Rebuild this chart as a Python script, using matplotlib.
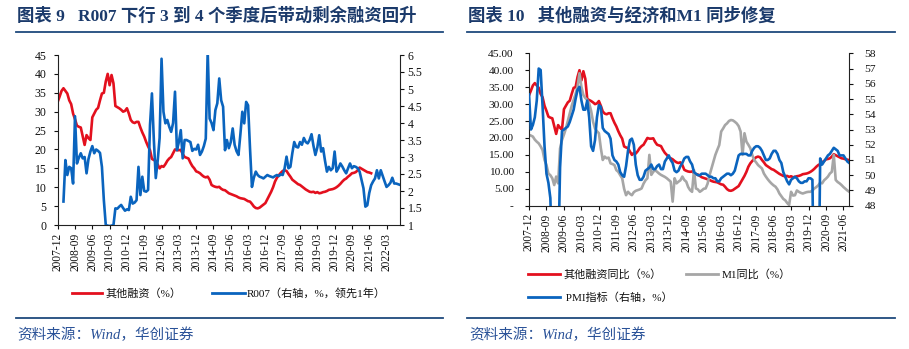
import numpy as np
import pandas as pd
import matplotlib
matplotlib.use('Agg')
import matplotlib.pyplot as plt
from matplotlib.lines import Line2D

plt.rcParams['font.family'] = ['Liberation Serif', 'Noto Sans CJK SC', 'DejaVu Sans']

# ---------------- data ----------------
start_month = '2007-12'
n_left = 179
n_right = 166
months_left = pd.period_range(start_month, periods=n_left, freq='M').strftime('%Y-%m').tolist()
months_right = months_left[:n_right]

# 其他融资同比 (%)
other_fin = [32.6, 34.0, 35.5, 36.2, 35.5, 34.8, 33.0, 32.0, 29.5, 28.0,
             26.3, 26.0, 25.8, 23.5, 21.2, 23.8, 23.0, 22.5, 28.5, 29.5,
             30.5, 31.0, 33.0, 34.8, 35.0, 38.0, 40.0, 37.0, 39.7, 37.5,
             31.5, 31.2, 30.9, 30.5, 30.0, 30.2, 30.9, 29.5, 27.8, 27.2,
             27.0, 27.3, 27.3, 25.8, 24.5, 23.4, 22.0, 20.8, 19.8, 17.5,
             17.2, 17.0, 16.0, 15.0, 15.6, 15.4, 16.1, 17.0, 17.6, 18.0,
             19.0, 20.0, 19.8, 19.8, 19.9, 18.8, 18.0, 17.8, 17.6, 16.5,
             15.6, 15.0, 14.2, 14.0, 13.7, 13.2, 12.8, 12.6, 12.8, 12.0,
             10.6, 10.3, 10.1, 10.0, 10.1, 9.6, 9.3, 9.2, 8.8, 8.4,
             8.2, 8.0, 7.8, 7.6, 7.3, 7.1, 7.0, 6.9, 6.6, 6.3,
             6.2, 5.6, 4.9, 4.5, 4.4, 4.6, 5.0, 5.4, 5.8, 6.8,
             7.8, 8.8, 10.0, 11.5, 12.5, 13.2, 13.8, 14.3, 14.5, 14.3,
             13.5, 12.8, 12.0, 11.6, 11.2, 10.8, 10.6, 10.2, 9.8, 9.4,
             9.1, 8.8, 8.7, 8.8, 8.5, 8.7, 8.4, 8.5, 8.7, 8.8,
             9.0, 9.3, 9.4, 9.5, 9.7, 10.0, 10.4, 10.9, 11.5, 12.0,
             12.3, 12.8, 13.2, 13.7, 13.8, 14.0, 14.5, 15.2, 14.9, 14.6,
             14.3, 14.0, 13.9, 13.7, 13.6, 13.4]
n_other_left = 164  # months of 其他融资 shown in the left chart

# R007 (右轴, %, 领先1年)
nan = np.nan
r007_lead = [nan, nan, nan,
             1.69, 2.91, 2.47, 2.71, 2.67, 2.22, 4.20,
             2.81, 2.98, 3.11, 2.96, 3.00, 2.52, 2.94, 3.16, 3.32, 3.11,
             3.22, 3.18, 3.12, 2.71, 1.73, 1.00, 0.98, 0.97, 0.98, 1.00,
             1.49, 1.48, 1.54, 1.59, 1.50, 1.42, 1.46, 1.44, 1.83, 1.63,
             1.66, 1.73, 2.71, 1.88, 2.42, 2.00, 1.98, 2.03, 3.94, 4.87,
             3.50, 2.38, 2.89, 3.56, 5.89, 4.33, 3.99, 4.09, 3.89, 3.74,
             4.00, 4.92, 3.20, 3.44, 3.79, 2.96, 3.50, 3.50, 3.47, 3.44,
             3.18, 3.24, 3.22, 3.36, 3.06, 3.16, 3.32, 3.54, 6.10, 4.13,
             4.00, 3.79, 4.38, 4.58, 5.31, 4.67, 4.48, 3.20, 3.50, 3.26,
             3.44, 3.84, 3.36, 3.17, 3.06, 3.67, 4.33, 3.99, 4.62, 4.52,
             3.26, 2.12, 2.39, 2.57, 2.47, 2.42, 2.40, 2.37, 2.42, 2.47,
             2.44, 2.42, 2.40, 2.44, 2.47, 2.44, 2.49, 2.47, 2.67, 3.01,
             2.67, 2.71, 3.11, 3.44, 3.30, 3.28, 3.44, 3.36, 3.56, 3.44,
             3.40, 3.50, 3.67, 3.33, 3.06, 3.28, 3.64, 3.16, 3.26, 2.89,
             2.57, 2.71, 2.61, 2.67, 3.16, 2.57, 2.67, 2.81, 2.72, 2.61,
             2.52, 2.67, 2.81, 2.67, 2.73, 2.71, 2.67, 2.57, 2.33, 2.08,
             1.54, 1.58, 1.94, 2.17, 2.28, 2.37, 2.61, 2.37, 2.61, 2.44,
             2.28, 2.12, 2.17, 2.24, 2.39, 2.22, 2.22, 2.20, 2.18]

# M1同比 (%)
m1_yoy = [20.9, 20.7, 20.4, 19.5, 18.9, 18.4, 17.5, 16.4, 13.5, 12.0,
          9.5, 9.0, 8.1, 6.1, 8.6, 6.6, 16.9, 19.4, 21.0, 22.8,
          25.0, 27.3, 29.5, 31.2, 33.0, 35.1, 39.1, 35.1, 32.7, 31.8,
          31.2, 30.2, 28.0, 24.8, 22.8, 22.0, 21.4, 17.0, 13.5, 14.5,
          14.0, 14.2, 12.5, 12.3, 12.0, 10.5, 10.0, 9.0, 8.1, 5.0,
          3.1, 4.1, 3.5, 3.1, 4.0, 4.4, 4.6, 4.8, 5.1, 6.5,
          7.5, 8.1, 15.0, 9.1, 10.0, 10.5, 10.0, 9.5, 9.1, 8.8,
          8.5, 8.1, 7.6, 7.1, 1.2, 8.1, 6.6, 7.1, 7.5, 8.6,
          7.6, 7.1, 5.5, 4.6, 4.1, 10.5, 5.1, 4.8, 4.1, 4.5,
          5.0, 5.1, 6.5, 9.0, 11.0, 13.0, 15.0, 16.5, 17.9, 21.9,
          22.8, 23.8, 24.3, 25.0, 25.3, 25.2, 24.8, 24.3, 23.5, 21.9,
          15.0, 21.4, 18.9, 18.0, 17.0, 15.0, 13.5, 12.8, 12.0, 11.5,
          11.0, 9.5, 8.6, 7.8, 7.1, 6.5, 6.0, 5.6, 4.8, 3.6,
          2.8, 2.0, 1.6, 0.8, 0.2, 4.1, 3.0, 3.1, 4.5, 4.1,
          3.8, 3.6, 3.8, 4.0, 4.1, 4.1, 4.5, 5.1, 5.5, 6.0,
          6.8, 6.6, 7.5, 8.0, 8.6, 9.5, 10.0, 15.0, 7.6, 7.0,
          6.6, 6.1, 5.5, 5.0, 4.5, 4.1]

# PMI指标 (右轴, %)
pmi = [55.3, 53.0, 53.3, 53.8, 54.9, 57.0, 56.9, 54.5, 51.9, 50.1,
       49.5, 48.5, 44.0, 41.0, 41.5, 44.0, 50.5, 52.9, 53.0, 53.1,
       53.2, 53.5, 53.9, 54.3, 55.0, 55.6, 55.8, 54.9, 54.3, 54.3,
       54.9, 53.8, 51.9, 51.6, 52.3, 53.8, 54.6, 54.5, 53.1, 52.9,
       52.8, 52.7, 52.4, 51.3, 51.0, 50.9, 50.7, 50.2, 50.0, 49.9,
       50.6, 51.6, 52.3, 52.4, 52.0, 50.7, 50.0, 49.7, 49.7, 49.9,
       50.3, 50.4, 50.5, 50.7, 50.4, 50.4, 50.6, 50.7, 50.4, 50.4,
       50.9, 51.1, 51.3, 51.0, 50.8, 50.3, 50.2, 50.3, 50.6, 50.8,
       51.1, 51.2, 51.2, 50.9, 50.7, 50.2, 50.1, 50.0, 50.0, 50.1,
       50.1, 50.1, 50.0, 49.9, 49.9, 49.8, 49.8, 49.6, 49.6, 49.8,
       49.9, 50.0, 50.1, 50.1, 50.0, 50.1, 50.3, 50.8, 51.3, 51.4,
       51.4, 51.4, 51.4, 51.3, 51.3, 51.6, 51.8, 51.9, 51.9, 51.8,
       51.6, 51.3, 51.0, 51.0, 51.1, 51.4, 51.6, 51.6, 51.4, 51.0,
       50.8, 50.2, 49.9, 49.6, 49.4, 49.7, 49.8, 49.9, 49.8, 49.6,
       49.5, 49.5, 49.6, 49.6, 49.8, 49.8, 49.7, 40.0, 36.0, 40.0,
       51.1, 50.7, 50.9, 51.1, 51.3, 51.4, 51.6, 51.8, 51.7, 51.6,
       51.3, 51.3, 51.3, 51.1, 50.9, 50.8]

title_left = '图表 9   R007 下行 3 到 4 个季度后带动剩余融资回升'
title_right = '图表 10   其他融资与经济和M1 同步修复'
legend_left = ['其他融资（%）', 'R007（右轴，%，领先1年）']
legend_right = ['其他融资同比（%）', 'M1同比（%）', ' PMI指标（右轴，%）']
source_text = '资料来源：Wind，华创证券'

# ---------------- style ----------------
RED = '#E3101E'
BLUE = '#0A64BE'
GREY = '#A6A6A6'
NAVY = '#1B3A6B'
RULE = '#1F4A7D'
SRC = '#2A5298'
LW = 1.9

W, H = 909, 349
fig = plt.figure(figsize=(W / 100, H / 100), dpi=100)
fig.patch.set_facecolor('white')


def fx(p):
    return p / W


def fy(p):
    return 1 - p / H


def style_axes(ax, axr, tick_fs=8.5, ypad_l=4, ypad_r=3):
    for s in ['top', 'right']:
        ax.spines[s].set_visible(False)
    for s in ['top', 'left', 'bottom']:
        axr.spines[s].set_visible(False)
    for a in (ax, axr):
        for s in a.spines.values():
            s.set_linewidth(0.8)
            s.set_color('#222222')
    ax.tick_params(axis='y', direction='out', length=3, width=0.8, pad=ypad_l,
                   labelsize=tick_fs, colors='#111111')
    axr.tick_params(axis='y', direction='out', length=3, width=0.8, pad=ypad_r,
                    labelsize=tick_fs, colors='#111111')
    ax.tick_params(axis='x', direction='out', length=3, width=0.8, pad=2.5,
                   labelsize=8.3, colors='#111111')
    for lab in ax.get_xticklabels():
        lab.set_rotation(90)
    axr.set_zorder(ax.get_zorder() + 1)
    axr.patch.set_visible(False)


# ---------------- left chart ----------------
ax1 = fig.add_axes([fx(57.7), fy(225), 342.3 / W, 170 / H])
x_left = np.arange(n_left)
ax1.plot(x_left[:n_other_left], other_fin[:n_other_left], color=RED, lw=LW)
ax1.set_xlim(0, n_left - 1)
ax1.set_ylim(0, 45)
ax1.set_yticks(np.arange(0, 46, 5))
ax1.set_yticklabels([f'{v:d}' for v in range(0, 46, 5)])
xt = np.arange(0, n_left - 6, 9)
ax1.set_xticks(xt)
ax1.set_xticklabels([months_left[i] for i in xt])

ax1r = ax1.twinx()
ax1r.plot(x_left, r007_lead, color=BLUE, lw=LW)
ax1r.set_ylim(1, 6)
rt = np.arange(1, 6.01, 0.5)
ax1r.set_yticks(rt)
ax1r.set_yticklabels([f'{v:g}' for v in rt])
ax1r.set_xlim(0, n_left - 1)
style_axes(ax1, ax1r, tick_fs=8.5, ypad_l=5, ypad_r=2.5)

# ---------------- right chart ----------------
ax2 = fig.add_axes([fx(529), fy(205.7), 320.3 / W, 152.4 / H])
x_right = np.arange(n_right)
ax2.plot(x_right, other_fin, color=RED, lw=LW)
ax2.plot(x_right, m1_yoy, color=GREY, lw=LW)
ax2.set_xlim(0, n_right - 1)
ax2.set_ylim(0, 45)
lt = np.arange(0, 46, 5)
ax2.set_yticks(lt)
ax2.set_yticklabels(['-' if v == 0 else f'{v:.2f}' for v in lt])
xt2 = np.arange(0, n_right - 3, 9)
ax2.set_xticks(xt2)
ax2.set_xticklabels([months_right[i] for i in xt2])

ax2r = ax2.twinx()
ax2r.plot(x_right, pmi, color=BLUE, lw=LW)
ax2r.set_ylim(48, 58)
ax2r.set_yticks(np.arange(48, 59, 1))
ax2r.set_yticklabels([f'{v:d}' for v in range(48, 59)])
ax2r.set_xlim(0, n_right - 1)
style_axes(ax2, ax2r, tick_fs=8.2, ypad_l=8, ypad_r=8)

# ---------------- titles, rules, legends, sources ----------------
fig.text(fx(17), fy(16.5), title_left, fontsize=12.5, fontweight='bold',
         color=NAVY, ha='left', va='center')
fig.text(fx(468), fy(16.5), title_right, fontsize=12.5, fontweight='bold',
         color=NAVY, ha='left', va='center')

for x0, x1 in [(16, 443), (467, 895)]:
    fig.add_artist(Line2D([fx(x0), fx(x1)], [fy(32.3), fy(32.3)],
                          transform=fig.transFigure, color=RULE, lw=1.3))
    fig.add_artist(Line2D([fx(x0), fx(x1)], [fy(318.3), fy(318.3)],
                          transform=fig.transFigure, color=RULE, lw=1.3))

fig.text(fx(17), fy(335), source_text, fontsize=10.5, color=SRC,
         style='italic', ha='left', va='center')
fig.text(fx(469), fy(335), source_text, fontsize=10.5, color=SRC,
         style='italic', ha='left', va='center')


def legend_item(x0, x1, xt_, y, color, text):
    fig.add_artist(Line2D([fx(x0), fx(x1)], [fy(y), fy(y)],
                          transform=fig.transFigure, color=color, lw=2.0))
    fig.text(fx(xt_), fy(y), text, fontsize=8, color='#111111',
             ha='left', va='center')


legend_item(72, 102, 106, 293.3, RED, legend_left[0])
legend_item(212, 245, 247, 293.3, BLUE, legend_left[1])
legend_item(528, 560, 563, 274, RED, legend_right[0])
legend_item(686, 718, 722, 274, GREY, legend_right[1])
legend_item(528, 560, 563, 297.3, BLUE, legend_right[2])

fig.savefig('out.png', dpi=100, facecolor='white')
